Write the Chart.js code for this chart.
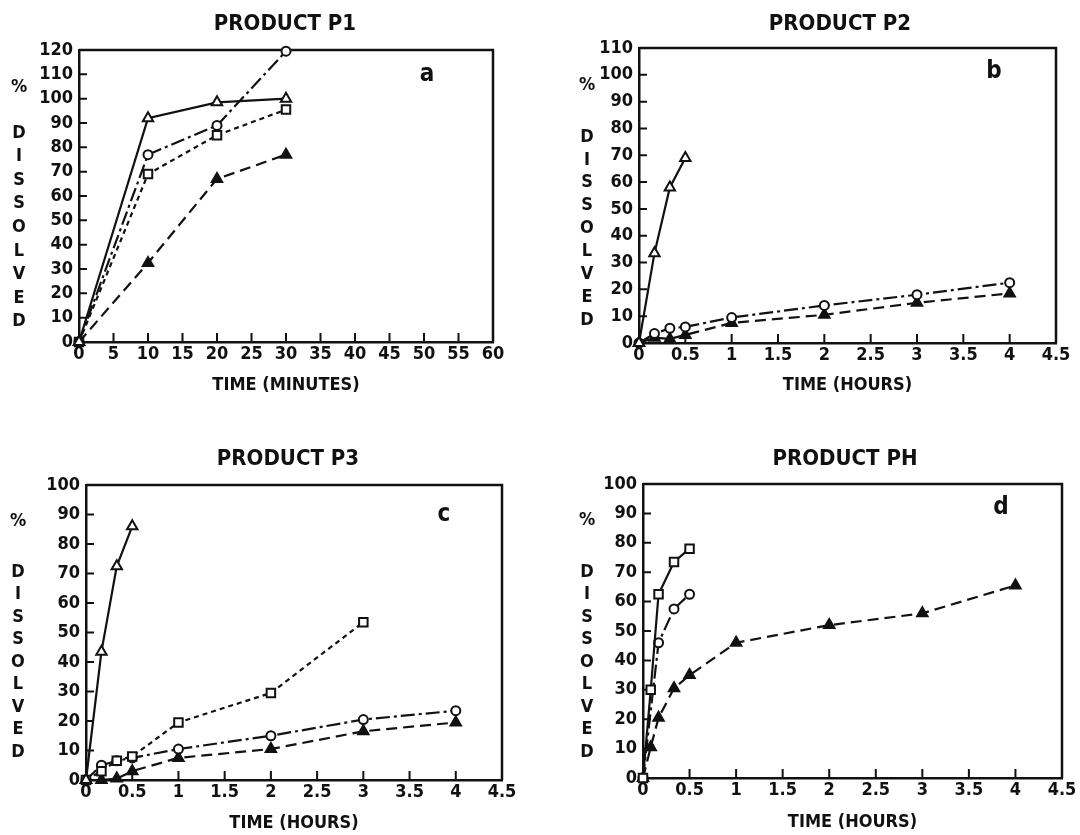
<!DOCTYPE html>
<html>
<head>
<meta charset="utf-8">
<title>Dissolution profiles</title>
<script src="https://cdn.jsdelivr.net/npm/chart.js@4.4.0/dist/chart.umd.min.js"></script>
<style>
    body { margin: 0; background: #fff; width: 1080px; height: 835px; overflow: hidden; position: relative; }
    canvas { position: absolute; }
</style>
</head>
<body>
<canvas id="p1" width="540" height="417" style="left:0;top:0"></canvas>
<canvas id="p2" width="520" height="417" style="left:560px;top:0"></canvas>
<canvas id="p3" width="540" height="418" style="left:0;top:417px"></canvas>
<canvas id="p4" width="520" height="418" style="left:560px;top:417px"></canvas>
<script>
// sampling times
const MINUTES = [0, 10, 20, 30];
const HOURS_SHORT = [0, 0.167, 0.333, 0.5];
const HOURS_LONG = [0, 0.167, 0.333, 0.5, 1, 2, 3, 4];
const HOURS_P3_SQUARE = [0, 0.167, 0.333, 0.5, 1, 2, 3];
const HOURS_PH_SQUARE = [0, 0.083, 0.167, 0.333, 0.5];
const HOURS_PH_TRI = [0, 0.083, 0.167, 0.333, 0.5, 1, 2, 3, 4];

// % dissolved - product P1
const P1_OPEN_TRI = [0, 92, 98.5, 100];
const P1_CIRCLE = [0, 77, 89, 119.5];
const P1_SQUARE = [0, 69, 85, 95.5];
const P1_FILLED_TRI = [0, 32.5, 67, 77];

// product P2
const P2_OPEN_TRI = [0, 33.5, 58, 69];
const P2_CIRCLE = [0, 3.5, 5.5, 6, 9.5, 14, 18, 22.5];
const P2_FILLED_TRI = [0, 2, 1.5, 3, 7.5, 10.5, 15, 18.5];

// product P3
const P3_OPEN_TRI = [0, 43.5, 72.5, 86];
const P3_SQUARE = [0, 3, 6.5, 8, 19.5, 29.5, 53.5];
const P3_CIRCLE = [0, 5, 6.5, 7.5, 10.5, 15, 20.5, 23.5];
const P3_FILLED_TRI = [0, 0, 0.5, 3, 7.5, 10.5, 16.5, 19.5];

// product PH
const PH_SQUARE = [0, 30, 62.5, 73.5, 78];
const PH_CIRCLE = [0, 46, 57.5, 62.5];
const PH_FILLED_TRI = [0, 10.5, 20.5, 30.5, 35, 46, 52, 56, 65.5];

// tick labels
const MINUTE_TICKS = ['0', '5', '10', '15', '20', '25', '30', '35', '40', '45', '50', '55', '60'];
const HOUR_TICKS = ['0', '0.5', '1', '1.5', '2', '2.5', '3', '3.5', '4', '4.5'];

const INK = '#111';
const FONT = '"Liberation Sans Narrow", "DejaVu Sans Condensed", "Arial Narrow", "Liberation Sans", sans-serif';

// marker / line look of each series
const STYLES = {
    openTri:   { pointStyle: 'triangle', pointRadius: 6, pointBackgroundColor: '#fff', borderDash: [] },
    circle:    { pointStyle: 'circle', pointRadius: 4.5, pointBackgroundColor: '#fff', borderDash: [14, 4, 3, 4] },
    square:    { pointStyle: 'rect', pointRadius: 6, pointBackgroundColor: '#fff', borderDash: [5, 4] },
    squareSolid: { pointStyle: 'rect', pointRadius: 6, pointBackgroundColor: '#fff', borderDash: [] },
    filledTri: { pointStyle: 'triangle', pointRadius: 6, pointBackgroundColor: INK, borderDash: [11, 6] }
};

function series(xs, ys, style) {
    return Object.assign({
        data: xs.map((x, i) => ({ x: x, y: ys[i] })),
        borderColor: INK,
        pointBorderColor: INK,
        borderWidth: 2.2,
        pointBorderWidth: 2,
        fill: false,
        tension: 0,
        clip: false
    }, STYLES[style]);
}

// title, top/right frame, inward ticks, "% DISSOLVED" and panel letter
const frameAndLabels = {
    id: 'frameAndLabels',
    beforeDatasetsDraw(chart) {
        const { ctx, chartArea: a, scales: { x, y } } = chart;
        ctx.save();
        ctx.strokeStyle = INK;
        ctx.lineWidth = 2.5;
        ctx.beginPath();
        ctx.moveTo(a.left, a.top);
        ctx.lineTo(a.right, a.top);
        ctx.lineTo(a.right, a.bottom);
        ctx.stroke();
        ctx.lineWidth = 2;
        ctx.beginPath();
        x.ticks.forEach(t => {
            if (t.value > x.min && t.value < x.max) {
                const px = x.getPixelForValue(t.value);
                ctx.moveTo(px, a.bottom);
                ctx.lineTo(px, a.bottom - 9);
            }
        });
        y.ticks.forEach(t => {
            if (t.value > y.min && t.value < y.max) {
                const py = y.getPixelForValue(t.value);
                ctx.moveTo(a.left, py);
                ctx.lineTo(a.left + 8, py);
            }
        });
        ctx.stroke();
        ctx.restore();
    },
    afterDraw(chart, args, opts) {
        const { ctx, chartArea: a } = chart;
        ctx.save();
        ctx.fillStyle = INK;
        ctx.textAlign = 'center';
        ctx.textBaseline = 'middle';
        ctx.font = 'bold 22px ' + FONT;
        ctx.fillText(opts.title, opts.titleX, opts.titleY);
        ctx.font = 'bold 18px ' + FONT;
        const lx = a.left - opts.labelDx;
        ctx.fillText('%', lx, a.top + opts.pctDy);
        'DISSOLVED'.split('').forEach((ch, i) => {
            ctx.fillText(ch, lx, a.top + opts.firstDy + i * opts.step);
        });
        ctx.font = 'bold 24px ' + FONT;
        ctx.fillText(opts.letter, a.right - opts.letterDx, a.top + opts.letterDy);
        ctx.restore();
    }
};

function makePanel(id, p) {
    new Chart(document.getElementById(id), {
        type: 'line',
        data: { datasets: p.datasets },
        plugins: [frameAndLabels],
        options: {
            responsive: false,
            animation: false,
            devicePixelRatio: 1,
            layout: { padding: { left: 0, right: p.padRight, top: p.padTop, bottom: 0 } },
            plugins: {
                legend: { display: false },
                tooltip: { enabled: false },
                title: { display: false },
                frameAndLabels: p.labels
            },
            scales: {
                x: {
                    type: 'linear',
                    min: 0,
                    max: p.xMax,
                    afterFit: s => { s.height = p.xHeight; },
                    grid: { display: false, drawTicks: false },
                    border: { display: true, color: INK, width: 2.5 },
                    ticks: {
                        stepSize: p.xStep,
                        autoSkip: false,
                        maxRotation: 0,
                        padding: 2,
                        color: INK,
                        font: { family: FONT, size: 18, weight: 'bold' },
                        callback: v => p.xTicks[Math.round(v / p.xStep)]
                    },
                    title: {
                        display: true,
                        text: p.xTitle,
                        color: INK,
                        font: { family: FONT, size: 18, weight: 'bold' },
                        padding: { top: 0, bottom: p.xTitleBottom }
                    }
                },
                y: {
                    min: 0,
                    max: p.yMax,
                    afterFit: s => { s.width = p.yWidth; },
                    grid: { display: false, drawTicks: false },
                    border: { display: true, color: INK, width: 2.5 },
                    ticks: {
                        stepSize: 10,
                        autoSkip: false,
                        padding: 6,
                        color: INK,
                        font: { family: FONT, size: 18, weight: 'bold' }
                    }
                }
            }
        }
    });
}

makePanel('p1', {
    xMax: 60, xStep: 5, xTicks: MINUTE_TICKS, xTitle: 'TIME (MINUTES)',
    xHeight: 75, xTitleBottom: 21, yMax: 120, yWidth: 79, padRight: 47, padTop: 50,
    labels: { title: 'PRODUCT P1', titleX: 285, titleY: 24,
              labelDx: 60, pctDy: 37, firstDy: 83, step: 23.6, letter: 'a', letterDx: 66, letterDy: 25 },
    datasets: [
        series(MINUTES, P1_OPEN_TRI, 'openTri'),
        series(MINUTES, P1_CIRCLE, 'circle'),
        series(MINUTES, P1_SQUARE, 'square'),
        series(MINUTES, P1_FILLED_TRI, 'filledTri')
    ]
});

makePanel('p2', {
    xMax: 4.5, xStep: 0.5, xTicks: HOUR_TICKS, xTitle: 'TIME (HOURS)',
    xHeight: 74, xTitleBottom: 21, yMax: 110, yWidth: 79, padRight: 24, padTop: 48,
    labels: { title: 'PRODUCT P2', titleX: 280, titleY: 24,
              labelDx: 52, pctDy: 37, firstDy: 89, step: 22.9, letter: 'b', letterDx: 62, letterDy: 24 },
    datasets: [
        series(HOURS_SHORT, P2_OPEN_TRI, 'openTri'),
        series(HOURS_LONG, P2_CIRCLE, 'circle'),
        series(HOURS_LONG, P2_FILLED_TRI, 'filledTri')
    ]
});

makePanel('p3', {
    xMax: 4.5, xStep: 0.5, xTicks: HOUR_TICKS, xTitle: 'TIME (HOURS)',
    xHeight: 55, xTitleBottom: 1, yMax: 100, yWidth: 86, padRight: 38, padTop: 68,
    labels: { title: 'PRODUCT P3', titleX: 288, titleY: 42,
              labelDx: 68, pctDy: 36, firstDy: 87, step: 22.5, letter: 'c', letterDx: 58, letterDy: 30 },
    datasets: [
        series(HOURS_SHORT, P3_OPEN_TRI, 'openTri'),
        series(HOURS_P3_SQUARE, P3_SQUARE, 'square'),
        series(HOURS_LONG, P3_CIRCLE, 'circle'),
        series(HOURS_LONG, P3_FILLED_TRI, 'filledTri')
    ]
});

makePanel('p4', {
    xMax: 4.5, xStep: 0.5, xTicks: HOUR_TICKS, xTitle: 'TIME (HOURS)',
    xHeight: 57, xTitleBottom: 2, yMax: 100, yWidth: 83, padRight: 18, padTop: 67,
    labels: { title: 'PRODUCT PH', titleX: 285, titleY: 42,
              labelDx: 56, pctDy: 36, firstDy: 88, step: 22.5, letter: 'd', letterDx: 61, letterDy: 24 },
    datasets: [
        series(HOURS_PH_SQUARE, PH_SQUARE, 'squareSolid'),
        series(HOURS_SHORT, PH_CIRCLE, 'circle'),
        series(HOURS_PH_TRI, PH_FILLED_TRI, 'filledTri')
    ]
});
</script>
</body>
</html>
